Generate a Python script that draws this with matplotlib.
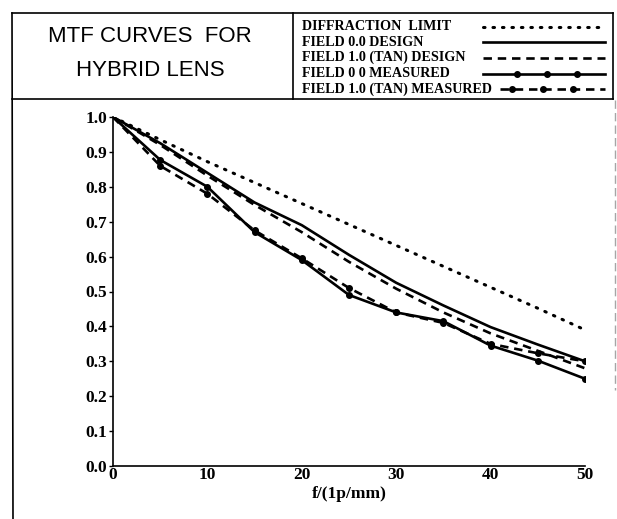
import matplotlib.pyplot as plt
from matplotlib.lines import Line2D

W, H = 617, 519

freq = [0, 5, 10, 15, 20, 25, 30, 35, 40, 45, 50]
diffraction_limit = [1.0, 0.935, 0.872, 0.812, 0.752, 0.692, 0.632, 0.572, 0.512, 0.452, 0.39]
field0_design = [1.0, 0.925, 0.84, 0.755, 0.69, 0.605, 0.525, 0.46, 0.398, 0.348, 0.30]
field1_tan_design = [1.0, 0.92, 0.832, 0.748, 0.67, 0.585, 0.508, 0.44, 0.38, 0.33, 0.28]
field0_measured = [1.0, 0.877, 0.80, 0.67, 0.59, 0.49, 0.44, 0.415, 0.345, 0.302, 0.25]
field1_tan_measured = [1.0, 0.86, 0.78, 0.675, 0.595, 0.51, 0.44, 0.41, 0.35, 0.323, 0.30]

x_ticks = [0, 10, 20, 30, 40, 50]
y_ticks = [0.0, 0.1, 0.2, 0.3, 0.4, 0.5, 0.6, 0.7, 0.8, 0.9, 1.0]

title_lines = ["MTF CURVES  FOR", "HYBRID LENS"]
legend_labels = [
    "DIFFRACTION  LIMIT",
    "FIELD 0.0 DESIGN",
    "FIELD 1.0 (TAN) DESIGN",
    "FIELD 0 0 MEASURED",
    "FIELD 1.0 (TAN) MEASURED",
]

SERIF = "Liberation Serif"
SANS = "Liberation Sans"

# line styles for the five series (same order as legend_labels)
styles = [
    dict(linestyle=(0, (0.5, 2.6)), linewidth=2.2, dash_capstyle="round"),
    dict(linestyle="-", linewidth=1.9),
    dict(linestyle=(0, (3.2, 2.2)), linewidth=1.9),
    dict(linestyle="-", linewidth=1.9, marker="o", markersize=4),
    dict(linestyle=(0, (3.2, 2.2)), linewidth=1.9, marker="o", markersize=4),
]


def fx(x):
    return x / W


def fy(y):
    return 1 - y / H


def fig_line(fig, xs, ys, **kw):
    kw.setdefault("color", "black")
    kw.setdefault("linewidth", 1.2)
    fig.add_artist(Line2D([fx(v) for v in xs], [fy(v) for v in ys],
                          transform=fig.transFigure, **kw))


fig = plt.figure(figsize=(W / 100, H / 100), dpi=100)

# header frame
fig_line(fig, [12, 613], [13, 13])
fig_line(fig, [12, 13], [13, 519])
fig_line(fig, [613, 613], [13, 99])
fig_line(fig, [12, 613], [99, 99])
fig_line(fig, [293, 293], [13, 99])
fig_line(fig, [615, 615], [100, 390], color="0.65", linewidth=1.0, linestyle=(0, (6, 3)))

for text, y in zip(title_lines, [36, 70]):
    fig.text(fx(150), fy(y), text, ha="center", va="center",
             fontsize=16, family=SANS)

row_y = [27, 42, 57.5, 73.5, 89]
handle_x = [[483, 605], [483, 605], [483, 605],
            [483, 517, 547, 577, 605], [500, 512, 543, 573, 605]]
for label, y, style, xs in zip(legend_labels, row_y, styles, handle_x):
    fig.text(fx(302), fy(y), label, ha="left", va="center",
             fontsize=10.2, family=SERIF, fontweight="bold")
    kw = dict(style)
    if "marker" in kw:
        kw["markevery"] = [1, 2, 3]
    fig_line(fig, xs, [y] * len(xs), **kw)

ax = fig.add_axes([fx(113), fy(466), (585 - 113) / W, (466 - 117) / H])

series = [diffraction_limit, field0_design, field1_tan_design,
          field0_measured, field1_tan_measured]
for values, style in zip(series, styles):
    kw = dict(style)
    if "marker" in kw:
        kw["markevery"] = list(range(1, len(freq)))
    ax.plot(freq, values, color="black", **kw)

ax.set_xlim(0, 50)
ax.set_ylim(0, 1.0)
ax.set_xticks(x_ticks)
ax.set_yticks(y_ticks)
ax.set_xticklabels([str(v) for v in x_ticks])
ax.set_yticklabels([f"{v:.1f}" for v in y_ticks])
for lbl in ax.get_xticklabels() + ax.get_yticklabels():
    lbl.set_family(SERIF)
    lbl.set_fontweight("bold")
    lbl.set_fontsize(12.5)
ax.tick_params(axis="x", length=0, pad=1)
ax.tick_params(axis="y", length=3, width=1, pad=1)
ax.spines["top"].set_visible(False)
ax.spines["right"].set_visible(False)
ax.spines["left"].set_linewidth(1.2)
ax.spines["bottom"].set_linewidth(1.2)
ax.set_xlabel("f/(1p/mm)", family=SERIF, fontweight="bold", fontsize=12.5, labelpad=2)
ax.patch.set_alpha(0)

fig.savefig("out.png", dpi=100)
